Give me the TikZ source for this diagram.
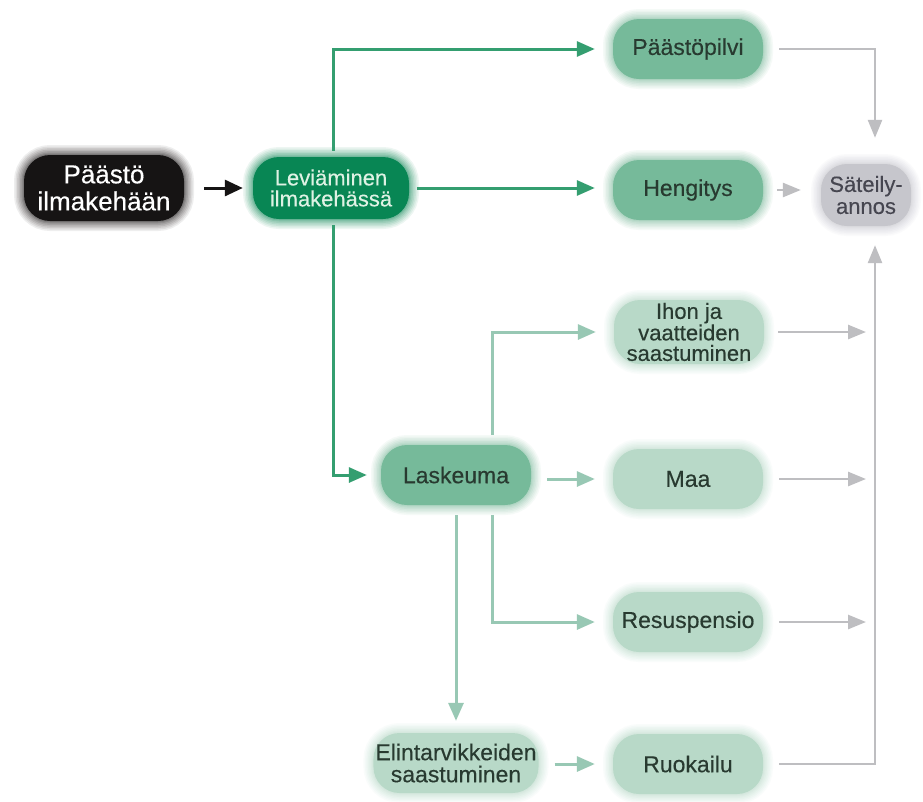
\documentclass[tikz,border=0pt]{standalone}
\usepackage{fontspec}
\setmainfont{Liberation Sans}[FakeBold=0.35]
\usetikzlibrary{arrows.meta}

\definecolor{blackbox}{RGB}{22,20,20}
\definecolor{darkgreen}{RGB}{8,134,84}
\definecolor{midgreen}{RGB}{118,186,154}
\definecolor{lightgreen}{RGB}{184,217,200}
\definecolor{greybox}{RGB}{198,198,204}
\definecolor{txtdark}{RGB}{40,58,48}
\definecolor{txtgrey}{RGB}{70,70,80}
\definecolor{levtxt}{RGB}{222,242,228}
\definecolor{arrgreen}{RGB}{52,158,112}
\definecolor{arrlight}{RGB}{152,200,180}
\definecolor{arrgrey}{RGB}{190,190,193}

\tikzset{
  % filled rounded box whose edge fades out through stacked translucent strokes
  soft/.style={fill=#1,
    preaction={draw=#1, line width=20pt, draw opacity=0.07},
    preaction={draw=#1, line width=17pt, draw opacity=0.08},
    preaction={draw=#1, line width=14pt, draw opacity=0.09},
    preaction={draw=#1, line width=11pt, draw opacity=0.10},
    preaction={draw=#1, line width=8pt, draw opacity=0.12},
    preaction={draw=#1, line width=5pt, draw opacity=0.14},
    preaction={draw=#1, line width=2.5pt, draw opacity=0.16}},
  box/.style={rounded corners=26pt, minimum width=150pt, minimum height=60pt,
    align=center, inner sep=2pt, text=txtdark,
    font=\fontsize{23}{21}\selectfont},
  darkarrow/.style={draw=blackbox, line width=3pt,
    -{Triangle[length=18pt,width=16pt]}},
  greenarrow/.style={draw=arrgreen, line width=3pt,
    -{Triangle[length=18pt,width=15pt]}},
  lightarrow/.style={draw=arrlight, line width=3pt,
    -{Triangle[length=18pt,width=15pt]}},
  greyarrow/.style={draw=arrgrey, line width=2.6pt,
    -{Triangle[length=18pt,width=14pt]}},
}

\begin{document}
\begin{tikzpicture}[x=1pt, y=-1pt]
  \useasboundingbox[fill=white] (0,0) rectangle (923,801);

  % source and dispersion
  \node[box, soft=blackbox, minimum width=160pt, minimum height=66pt, text=white,
        font=\fontsize{26}{27}\selectfont] (paasto) at (104,188) {Päästö\\ilmakehään};
  \node[box, soft=darkgreen, minimum width=156pt, minimum height=62pt, text=levtxt,
        font=\fontsize{22}{21}\selectfont] (lev) at (331,188) {Leviäminen\\ilmakehässä};

  % exposure pathways
  \node[box, soft=midgreen]   (pilvi) at (688,49)  {Päästöpilvi};
  \node[box, soft=midgreen]   (heng)  at (688,190) {Hengitys};
  \node[box, soft=greybox, minimum width=90pt, minimum height=62pt, text=txtgrey,
        font=\fontsize{22}{22}\selectfont] (sat) at (866,195) {Säteily-\\annos};
  \node[box, soft=midgreen]   (lask)  at (456,475) {Laskeuma};
  \node[box, soft=lightgreen, minimum height=64pt,
        font=\fontsize{22}{20.5}\selectfont] (ihon) at (689,332) {Ihon ja\\vaatteiden\\saastuminen};
  \node[box, soft=lightgreen] (maa)   at (688,479) {Maa};
  \node[box, soft=lightgreen] (resus) at (688,622) {Resuspensio};
  \node[box, soft=lightgreen, minimum width=150pt,
        font=\fontsize{23}{22}\selectfont] (elin) at (456,763) {Elintarvikkeiden\\saastuminen};
  \node[box, soft=lightgreen] (ruok)  at (688,764) {Ruokailu};

  % collector line beside the dose node
  \coordinate (bus) at (875,0);

  % from the release
  \draw[darkarrow, shorten <=20pt, shorten >=10pt] (paasto.east) -- (lev.west);

  % from atmospheric dispersion
  \draw[greenarrow, shorten <=6pt, shorten >=18pt] ([xshift=2pt]lev.north) |- (pilvi.west);
  \draw[greenarrow, shorten <=8pt, shorten >=18pt] (lev.east) -- (lev.east -| heng.west);
  \draw[greenarrow, shorten <=6pt, shorten >=14pt] ([xshift=2pt]lev.south) |- (lask.west);

  % from deposition
  \draw[lightarrow, shorten <=10pt, shorten >=18pt] ([xshift=36pt]lask.north) |- (ihon.west);
  \draw[lightarrow, shorten <=16pt, shorten >=18pt] (lask.east |- maa.west) -- (maa.west);
  \draw[lightarrow, shorten <=10pt, shorten >=18pt] ([xshift=36pt]lask.south) |- (resus.west);
  \draw[lightarrow, shorten <=10pt, shorten >=12pt] (lask.south) -- (elin.north);
  \draw[lightarrow, shorten <=16pt, shorten >=18pt] (elin.east |- ruok.west) -- (ruok.west);

  % towards the radiation dose
  \draw[greyarrow, shorten <=16pt, shorten >=26pt] (pilvi.east) -| ([xshift=9pt]sat.north);
  \draw[greyarrow, shorten <=14pt, shorten >=20pt] (heng.east) -- (heng.east -| sat.west);
  \draw[greyarrow, shorten <=14pt, shorten >=9pt] (ihon.east) -- (ihon.east -| bus);
  \draw[greyarrow, shorten <=16pt, shorten >=9pt] (maa.east) -- (maa.east -| bus);
  \draw[greyarrow, shorten <=16pt, shorten >=9pt] (resus.east) -- (resus.east -| bus);
  \draw[greyarrow, shorten <=16pt, shorten >=19pt] (ruok.east) -| ([xshift=9pt]sat.south);
\end{tikzpicture}
\end{document}
